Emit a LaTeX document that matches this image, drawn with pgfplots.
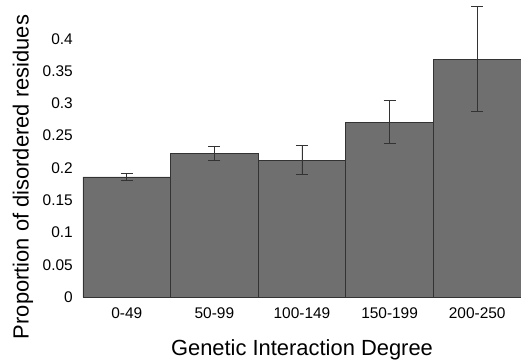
\documentclass[border=0pt]{standalone}
\usepackage{fontspec}
\setmainfont{Liberation Sans}
\usepackage{pgfplots}
\pgfplotsset{compat=1.18}
\definecolor{barfill}{HTML}{6F6F6F}
\definecolor{baredge}{HTML}{333333}
\begin{document}
\begin{tikzpicture}
\begin{axis}[
  scale only axis,
  width=438bp, height=297bp,
  xmin=0.5, xmax=5.5, ymin=0, ymax=0.46,
  axis line style={draw=none},
  major tick length=0pt,
  xtick={1,2,3,4,5},
  xticklabels={0-49,50-99,100-149,150-199,200-250},
  ytick={0,0.05,0.1,0.15,0.2,0.25,0.3,0.35,0.4},
  yticklabels={0,0.05,0.1,0.15,0.2,0.25,0.3,0.35,0.4},
  /pgf/number format/assume math mode=true,
  ticklabel style={font=\fontsize{15.5}{15.5}\selectfont},
  yticklabel style={anchor=east, inner sep=0pt, xshift=-10bp},
  xticklabel style={anchor=center, inner sep=0pt, yshift=-16bp},
  xlabel={Genetic Interaction Degree},
  ylabel={Proportion of disordered residues},
  xlabel style={font=\fontsize{22}{22}\selectfont, at={(axis description cs:0.5,-0.1970)}, anchor=base},
  ylabel style={font=\fontsize{22}{22}\selectfont, at={(axis description cs:-0.1370,0.404)}, anchor=center, rotate=0},
  clip=false,
]
\addplot[ybar, bar width=1, fill=barfill, draw=baredge, line width=0.8bp,
  error bars/.cd, y dir=both, y explicit,
  error bar style={color=baredge, line width=0.7bp},
  error mark options={rotate=90, mark size=6bp, color=baredge, line width=0.7bp}]
coordinates {
  (1,0.186) += (0,0.006) -= (0,0.005)
  (2,0.223) += (0,0.011) -= (0,0.011)
  (3,0.212) += (0,0.023) -= (0,0.022)
  (4,0.271) += (0,0.034) -= (0,0.033)
  (5,0.368) += (0,0.082) -= (0,0.080)
};
\end{axis}
\pgfresetboundingbox
\path[use as bounding box] (-83bp,-63bp) rectangle (438bp,297bp);
\end{tikzpicture}
\end{document}
